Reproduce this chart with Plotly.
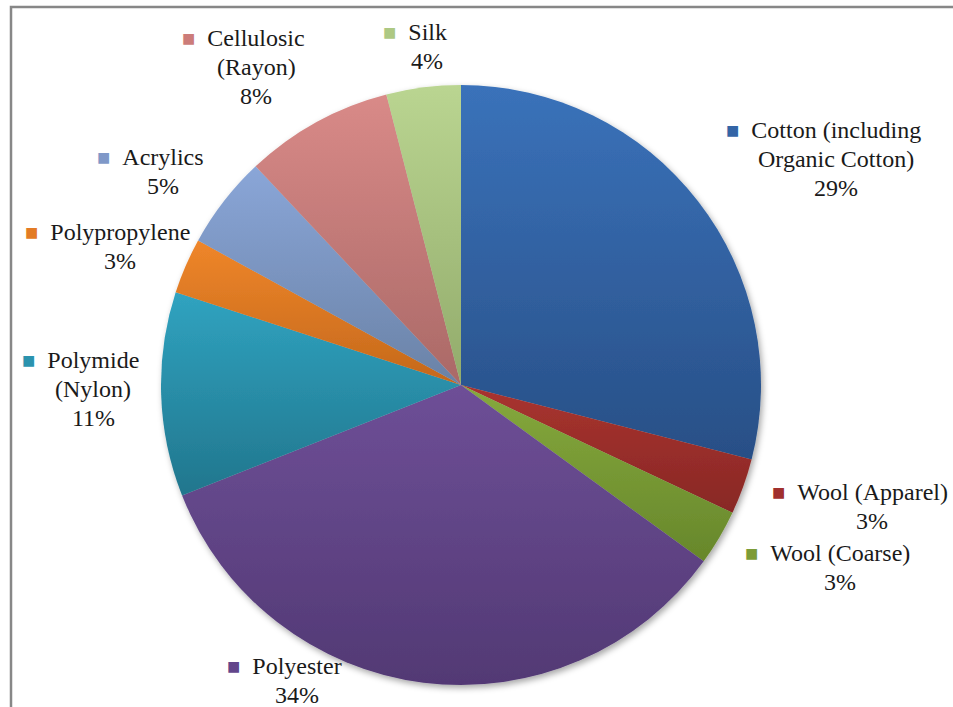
import json
import plotly.graph_objects as go

# Fibre share of textile production (percent)
fibres = [
    "Cotton (including<br>Organic Cotton)",
    "Wool (Apparel)",
    "Wool (Coarse)",
    "Polyester",
    "Polymide<br>(Nylon)",
    "Polypropylene",
    "Acrylics",
    "Cellulosic<br>(Rayon)",
    "Silk",
]
shares = [29, 3, 3, 34, 11, 3, 5, 8, 4]

# slice fills: light tone at the top of each slice, shade at the bottom
colors_top = [
    "#3a72ba", "#a9332f", "#86a93d", "#6e4f97", "#30a3c0",
    "#ef862a", "#8aa6d8", "#d98a88", "#bad591",
]
colors_bottom = [
    "#284f86", "#882825", "#67872b", "#523974", "#21768d",
    "#c4681b", "#6a82a6", "#aa6967", "#92ab6b",
]
marker_colors = [
    "#3365a6", "#a0302d", "#7c9c38", "#62468b", "#2b93ae",
    "#e37b25", "#7f98c8", "#cc7c79", "#adc883",
]

# label placement: (text centre x, first-line y) in canvas pixels
label_pos = [
    (836, 130), (872, 492), (840, 553), (297, 666), (93, 360),
    (120, 232), (163, 157), (256, 38), (427, 32),
]
LINE_STEP = 29
MARKER_SHIFT = -12.5  # half the width of the colour square and its gap

W, H = 953, 707
cx, cy, r = 461, 385, 300
SERIF = "Liberation Serif, Times New Roman, serif"

fig = go.Figure()
fig.add_trace(go.Pie(
    labels=[f.replace("<br>", " ") for f in fibres],
    values=shares,
    sort=False,
    direction="clockwise",
    rotation=0,
    marker=dict(colors=marker_colors, line=dict(width=0)),
    textinfo="none",
    hoverinfo="label+percent",
    showlegend=False,
    domain=dict(x=[(cx - r) / W, (cx + r) / W], y=[1 - (cy + r) / H, 1 - (cy - r) / H]),
))

GAP = "\u00a0\u00a0"
for name, val, col, (px, py) in zip(fibres, shares, marker_colors, label_pos):
    lines = name.split("<br>") + [f"{val}%"]
    sq = f'<span style="color:{col};font-size:22px">■</span>'
    lines[0] = f"{sq}{GAP}{lines[0]}"
    for k, line in enumerate(lines):
        fig.add_annotation(
            x=px / W, y=1 - (py + k * LINE_STEP) / H, xref="paper", yref="paper",
            xanchor="center", yanchor="middle", align="center",
            xshift=MARKER_SHIFT if k == 0 else 0,
            text=line, showarrow=False,
            font=dict(family=SERIF, size=24, color="#1a1a1a"),
        )

# chart frame
fig.add_shape(type="rect", xref="paper", yref="paper",
              x0=11 / W, y0=-0.05, x1=1.05, y1=1 - 7 / H,
              line=dict(color="#878787", width=2.5), fillcolor="rgba(0,0,0,0)")

fig.update_layout(
    width=W, height=H,
    margin=dict(l=0, r=0, t=0, b=0),
    paper_bgcolor="white",
    plot_bgcolor="white",
    font=dict(family=SERIF),
)

# vertical gradient per slice plus a soft drop shadow under the pie
shade_js = """
var gd = document.getElementById('{plot_id}');
var NS = 'http://www.w3.org/2000/svg';
var svg = gd.querySelector('svg.main-svg');
var defs = document.createElementNS(NS, 'defs');
svg.insertBefore(defs, svg.firstChild);
var tops = TOPS, bots = BOTS;
var flt = document.createElementNS(NS, 'filter');
flt.setAttribute('id', 'pieshadow');
flt.setAttribute('x', '-10%'); flt.setAttribute('y', '-10%');
flt.setAttribute('width', '120%'); flt.setAttribute('height', '120%');
var ds = document.createElementNS(NS, 'feDropShadow');
ds.setAttribute('dx', '2'); ds.setAttribute('dy', '3');
ds.setAttribute('stdDeviation', '3');
ds.setAttribute('flood-color', '#000'); ds.setAttribute('flood-opacity', '0.35');
flt.appendChild(ds);
defs.appendChild(flt);
gd.querySelectorAll('g.slice path.surface').forEach(function (p, n) {
  var d = p.parentNode.__data__;
  var i = (d && d.i !== undefined) ? d.i : n;
  var g = document.createElementNS(NS, 'linearGradient');
  g.setAttribute('id', 'slicegrad' + i);
  g.setAttribute('x1', '0'); g.setAttribute('y1', '0');
  g.setAttribute('x2', '0'); g.setAttribute('y2', '1');
  [[0, tops[i]], [1, bots[i]]].forEach(function (s) {
    var st = document.createElementNS(NS, 'stop');
    st.setAttribute('offset', s[0]);
    st.setAttribute('stop-color', s[1]);
    g.appendChild(st);
  });
  defs.appendChild(g);
  p.style.fill = 'url(#slicegrad' + i + ')';
});
var tr = gd.querySelector('g.pielayer g.trace');
if (tr) { tr.setAttribute('filter', 'url(#pieshadow)'); }
""".replace("TOPS", json.dumps(colors_top)).replace("BOTS", json.dumps(colors_bottom))

fig.write_html("out.html", post_script=shade_js)
